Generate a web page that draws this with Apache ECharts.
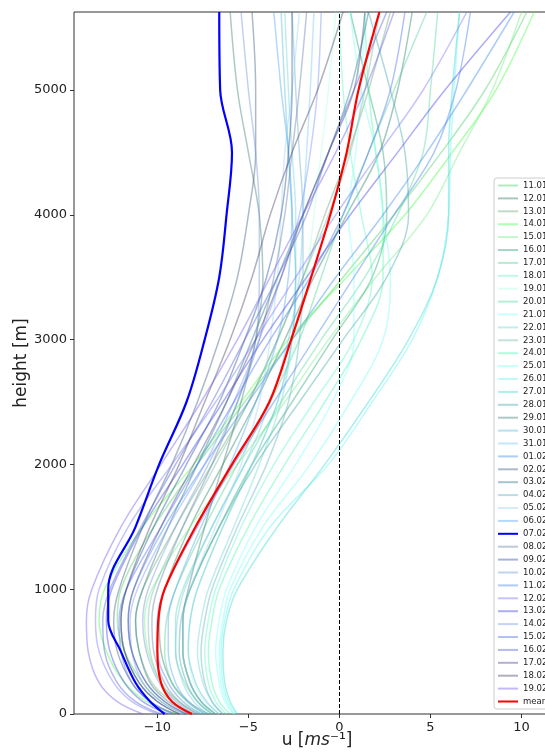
<!DOCTYPE html>
<html>
<head>
<meta charset="utf-8">
<script src="https://cdn.jsdelivr.net/npm/echarts@6/dist/echarts.min.js"></script>
<style>
html,body{margin:0;padding:0;background:#fff;}
#chart{width:545px;height:756px;}
</style>
</head>
<body>
<div id="chart"></div>
<script>
// heights (m) at which each profile is read
const heights = [0, 100, 250, 500, 750, 1000, 1500, 2000, 2500, 3000, 3500, 4000, 4500, 5000, 5625];

const dayLabels = ['11.01','12.01','13.01','14.01','15.01','16.01','17.01','18.01','19.01','20.01',
  '21.01','22.01','23.01','24.01','25.01','26.01','27.01','28.01','29.01','30.01','31.01',
  '01.02','02.02','03.02','04.02','05.02','06.02','07.02','08.02','09.02','10.02','11.02',
  '12.02','13.02','14.02','15.02','16.02','17.02','18.02','19.02'];

// u [m/s] profiles, one per day
const u1101 = [-8.5,-9.8,-10.8,-11.8,-12.2,-12.0,-10.2,-7.8,-5.2,-2.6,0.2,3.0,5.6,8.0,10.3];
const u1201 = [-7.2,-8.3,-9.2,-9.8,-9.9,-9.6,-8.2,-6.4,-4.6,-3.0,-1.4,0.4,2.2,3.2,4.0];
const u1301 = [-8.0,-9.2,-10.3,-11.0,-11.2,-10.8,-9.0,-7.0,-5.0,-3.4,-2.0,-0.8,0.5,1.6,2.8];
const u1401 = [-9.0,-10.6,-11.8,-12.8,-13.2,-12.9,-10.8,-8.0,-5.4,-2.8,0.4,3.6,6.2,8.6,10.7];
const u1501 = [-7.6,-8.8,-9.8,-10.5,-10.7,-10.3,-8.2,-5.6,-3.0,-0.6,2.0,4.8,6.6,8.4,10.0];
const u1601 = [-6.8,-7.6,-8.2,-8.6,-8.6,-8.2,-6.6,-4.8,-2.6,-0.4,1.8,2.6,2.4,1.6,0.6];
const u1701 = [-7.4,-8.4,-9.2,-9.6,-9.5,-9.0,-7.4,-5.6,-3.8,-2.2,-1.0,0.2,1.6,3.0,4.8];
const u1801 = [-6.2,-6.8,-7.2,-7.4,-7.2,-6.8,-5.4,-3.6,-1.4,0.8,1.8,1.2,0.6,0.2,0.0];
const u1901 = [-6.6,-7.4,-8.0,-8.3,-8.2,-7.8,-6.4,-4.8,-3.4,-2.4,-1.8,-1.4,-1.0,-0.6,-0.2];
const u2001 = [-7.0,-7.8,-8.5,-9.0,-9.0,-8.6,-7.0,-5.2,-3.2,-1.0,1.4,3.2,4.6,5.0,5.4];
const u2101 = [-5.8,-6.3,-6.6,-6.8,-6.6,-6.2,-4.6,-2.4,-0.4,0.8,0.8,0.5,0.9,1.2,1.4];
const u2201 = [-6.4,-7.0,-7.5,-7.8,-7.6,-7.2,-5.8,-4.4,-3.2,-2.6,-2.4,-2.4,-2.6,-2.8,-3.0];
const u2301 = [-7.8,-8.9,-9.8,-10.4,-10.5,-10.2,-8.6,-6.8,-5.0,-3.4,-2.0,-0.6,0.6,1.4,2.2];
const u2401 = [-6.0,-6.6,-7.0,-7.2,-7.0,-6.6,-5.0,-3.0,-0.8,1.2,2.4,2.4,2.0,1.6,1.4];
const u2501 = [-5.8,-6.2,-6.5,-6.6,-6.4,-6.0,-4.2,-1.6,0.6,2.4,2.8,2.4,2.0,1.2,0.6];
const u2601 = [-5.7,-6.1,-6.4,-6.5,-6.3,-5.8,-3.8,-0.6,1.8,4.0,5.4,6.0,6.1,6.3,6.6];
const u2701 = [-5.6,-6.0,-6.3,-6.4,-6.2,-5.6,-3.4,-0.8,1.6,3.8,5.4,6.0,6.0,6.2,6.6];
const u2801 = [-7.0,-7.8,-8.4,-8.8,-8.7,-8.2,-6.6,-4.6,-2.2,0.2,2.6,3.8,3.6,2.8,1.6];
const u2901 = [-6.8,-7.6,-8.2,-8.6,-8.6,-8.3,-7.4,-6.4,-5.4,-4.6,-4.2,-4.4,-5.0,-5.6,-6.0];
const u3001 = [-6.6,-7.3,-7.9,-8.3,-8.2,-7.8,-6.4,-4.8,-3.4,-2.6,-2.4,-2.6,-2.8,-3.0,-3.2];
const u3101 = [-7.2,-8.0,-8.6,-9.0,-8.9,-8.5,-7.0,-5.2,-3.8,-2.8,-2.2,-2.0,-1.8,-1.6,-1.4];
const u0102 = [-8.4,-9.6,-10.6,-11.4,-11.6,-11.3,-9.6,-7.4,-5.0,-2.6,-0.2,2.4,4.8,7.0,9.6];
const u0202 = [-9.0,-10.4,-11.4,-12.2,-12.4,-12.1,-10.8,-9.2,-7.8,-6.6,-5.6,-5.0,-4.6,-4.6,-4.8];
const u0302 = [-8.2,-9.4,-10.4,-11.0,-11.2,-10.8,-9.4,-7.8,-6.2,-4.8,-3.4,-2.0,-0.6,0.6,1.6];
const u0402 = [-6.4,-7.0,-7.4,-7.6,-7.4,-7.0,-5.6,-4.0,-2.8,-2.2,-2.0,-2.0,-2.2,-2.4,-2.6];
const u0502 = [-6.8,-7.6,-8.2,-8.6,-8.6,-8.2,-6.8,-5.4,-4.4,-3.8,-3.4,-3.2,-3.0,-2.6,-2.2];
const u0602 = [-7.4,-8.3,-9.0,-9.4,-9.4,-9.0,-7.6,-6.0,-4.6,-3.4,-2.8,-2.6,-2.8,-3.2,-3.6];
const u0702 = [-9.6,-10.4,-11.2,-12.0,-12.7,-12.7,-11.2,-9.9,-8.4,-7.4,-6.6,-6.2,-5.9,-6.55,-6.6];
const u0802 = [-7.8,-8.8,-9.6,-10.2,-10.3,-10.0,-8.6,-7.0,-5.6,-4.4,-3.6,-3.0,-2.6,-2.2,-1.8];
const u0902 = [-8.8,-10.0,-11.0,-11.8,-12.0,-11.7,-10.2,-8.4,-6.6,-5.2,-4.0,-3.2,-2.8,-2.6,-2.6];
const u1002 = [-8.0,-9.0,-9.9,-10.6,-10.8,-10.5,-9.0,-7.2,-5.6,-4.6,-4.4,-4.4,-4.6,-5.0,-5.4];
const u1102 = [-7.6,-8.6,-9.4,-10.0,-10.0,-9.6,-7.8,-5.8,-3.6,-1.4,0.8,3.0,5.2,6.4,7.2];
const u1202 = [-10.0,-11.4,-12.4,-13.2,-13.4,-13.2,-11.6,-9.2,-6.8,-4.6,-2.4,-0.2,2.2,4.6,7.0];
const u1302 = [-9.4,-10.8,-11.8,-12.6,-12.8,-12.5,-10.8,-8.6,-6.4,-4.2,-1.8,0.6,3.2,5.8,9.4];
const u1402 = [-8.6,-9.8,-10.8,-11.4,-11.5,-11.1,-9.4,-7.4,-5.8,-4.4,-3.2,-2.2,-1.6,-1.2,-1.0];
const u1502 = [-9.2,-10.4,-11.4,-12.0,-12.1,-11.7,-9.8,-7.8,-5.8,-3.8,-1.6,0.2,1.6,2.8,3.6];
const u1602 = [-9.8,-11.2,-12.2,-12.9,-13.0,-12.6,-10.9,-9.0,-7.0,-5.2,-3.4,-1.8,-0.6,0.8,2.6];
const u1702 = [-8.4,-9.6,-10.6,-11.4,-11.6,-11.3,-9.8,-8.0,-6.2,-4.6,-3.2,-2.0,-0.6,0.8,1.4];
const u1802 = [-8.8,-10.0,-11.0,-11.8,-12.0,-11.7,-10.4,-8.8,-7.4,-6.0,-4.8,-3.8,-2.6,-1.2,0.2];
const u1902 = [-10.8,-12.2,-13.2,-13.8,-13.9,-13.6,-12.0,-9.8,-7.6,-5.6,-3.8,-2.0,-0.2,1.4,3.0];

// mean profile
const uMean = [-8.1,-9.2,-9.8,-10.0,-9.95,-9.6,-7.9,-5.9,-3.85,-2.65,-1.55,-0.5,0.4,1.05,2.2];

const profiles = [u1101,u1201,u1301,u1401,u1501,u1601,u1701,u1801,u1901,u2001,
  u2101,u2201,u2301,u2401,u2501,u2601,u2701,u2801,u2901,u3001,u3101,
  u0102,u0202,u0302,u0402,u0502,u0602,u0702,u0802,u0902,u1002,u1102,
  u1202,u1302,u1402,u1502,u1602,u1702,u1802,u1902];

const lineColors = ['#44CF62','#257F61','#6BA775','#40FF40','#75ED89','#25A775','#4DCF93','#61F5C5','#AFFFE1','#4DD99D',
  '#7FFFFF','#6BD4D4','#75B9A5','#4DF5B1','#75FFED','#61F5F5','#39D9CF','#43A7A7','#397F75','#4DB9D7','#75C5F5',
  '#3989EB','#39577F','#257589','#61AFC3','#9BD4F5','#4DA5F5','#0000FF','#617FA7','#254D9D','#6B93D7','#437FF5',
  '#7575F5','#3939EB','#7593F5','#436BF5','#4D57D7','#4D4389','#434361','#6B57F5'];

const boldDay = '07.02';
const xTicks = [-10, -5, 0, 5, 10];

function rgba(hex, a) {
  const r = parseInt(hex.slice(1,3),16), g = parseInt(hex.slice(3,5),16), b = parseInt(hex.slice(5,7),16);
  return 'rgba(' + r + ',' + g + ',' + b + ',' + a + ')';
}
const FONT = 'DejaVu Sans';
const minusFmt = v => String(v).replace('-', '\u2212');

const series = profiles.map((p, i) => {
  const bold = dayLabels[i] === boldDay;
  const col = bold ? lineColors[i] : rgba(lineColors[i], 0.42);
  return {
    name: dayLabels[i],
    type: 'line',
    data: p.map((u, k) => [u, heights[k]]),
    showSymbol: false,
    symbol: 'none',
    smooth: 0.35,
    color: col,
    lineStyle: { color: col, width: bold ? 2.2 : 1.5 },
    z: bold ? 3 : 2,
    silent: true
  };
});
series.push({
  name: 'mean',
  type: 'line',
  data: uMean.map((u, k) => [u, heights[k]]),
  symbol: 'none',
  showSymbol: false,
  smooth: 0.35,
  color: '#FF0000',
  lineStyle: { color: '#FF0000', width: 2.2 },
  z: 4,
  silent: true,
  markLine: {
    silent: true,
    symbol: ['none', 'none'],
    label: { show: false },
    lineStyle: { color: '#000', type: [4, 2], width: 1 },
    data: [{ xAxis: 0 }]
  }
});

const chart = echarts.init(document.getElementById('chart'), null, { renderer: 'canvas' });
chart.setOption({
  animation: false,
  backgroundColor: '#fff',
  grid: { left: 74, top: 12, width: 486, height: 702, containLabel: false, outerBoundsMode: 'none',
          show: true, borderColor: '#333', borderWidth: 1, backgroundColor: 'transparent' },
  xAxis: {
    type: 'value', min: -14.58, max: 12.12,
    axisLine: { show: false, onZero: false },
    splitLine: { show: false },
    axisTick: { show: true, customValues: xTicks, length: 4, lineStyle: { color: '#333' } },
    axisLabel: { customValues: xTicks, formatter: minusFmt, fontSize: 13, color: '#222', fontFamily: FONT, margin: 7 },
    name: '{a|u [}{i|ms}{a|\u207B\u00B9]}',
    nameLocation: 'middle',
    nameGap: 18,
    nameMoveOverlap: false,
    nameTextStyle: {
      rich: {
        a: { fontSize: 17, fontFamily: FONT, color: '#222' },
        i: { fontSize: 17, fontFamily: FONT, fontStyle: 'italic', color: '#222' }
      }
    }
  },
  yAxis: {
    type: 'value', min: 0, max: 5625, interval: 1000,
    axisLine: { show: false, onZero: false },
    splitLine: { show: false },
    axisTick: { show: true, length: 4, lineStyle: { color: '#333' } },
    axisLabel: { fontSize: 13, color: '#222', fontFamily: FONT, margin: 7, showMaxLabel: false,
                 formatter: v => String(v) },
    name: 'height [m]',
    nameLocation: 'middle',
    nameGap: 44,
    nameMoveOverlap: false,
    nameTextStyle: { fontSize: 17, fontFamily: FONT, color: '#222' }
  },
  legend: {
    orient: 'vertical',
    left: 494, top: 178,
    padding: [3, 6, 3, 3],
    itemWidth: 20, itemHeight: 7, itemGap: 3.9,
    itemStyle: { opacity: 0, borderWidth: 0 },
    backgroundColor: 'rgba(255,255,255,0.8)',
    borderColor: '#cccccc', borderWidth: 1, borderRadius: 3,
    textStyle: { fontSize: 8.5, fontFamily: FONT, color: '#222', lineHeight: 7 },
    data: dayLabels.concat(['mean'])
  },
  series: series
});
</script>
</body>
</html>
